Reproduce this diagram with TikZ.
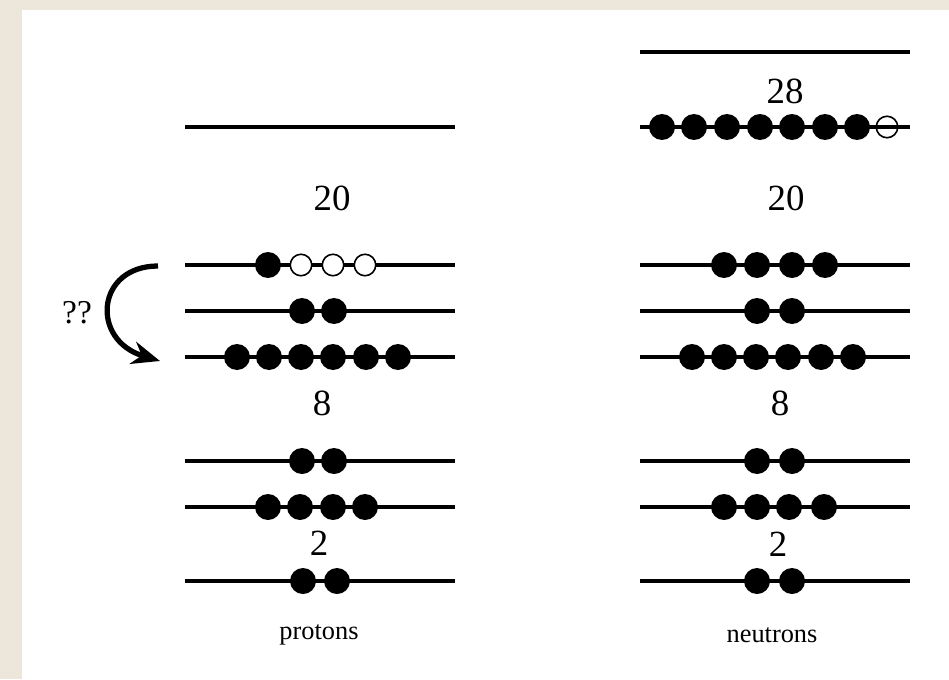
\documentclass[tikz,border=0pt]{standalone}
\usepackage{fontspec}
\setmainfont{Liberation Serif}
\usetikzlibrary{arrows.meta, positioning}
\definecolor{paperBeige}{RGB}{236,231,218}
\definecolor{levelBlack}{RGB}{0,0,0}

\begin{document}
\begin{tikzpicture}[
    x=0.02cm, y=-0.02cm,
    >=Stealth,
    % Single-particle level
    level/.style={draw=levelBlack, line width=2.3pt},
    % Occupied state
    full/.style={
        circle, fill=levelBlack, draw=none,
        inner sep=0pt, minimum size=0.52cm
    },
    % Empty state (white inside)
    hole/.style={
        circle, draw=levelBlack, fill=white, line width=0.9pt,
        inner sep=0pt, minimum size=0.43cm
    },
    % Empty state (line runs through)
    holeOpen/.style={
        circle, draw=levelBlack, line width=0.9pt,
        inner sep=0pt, minimum size=0.43cm
    },
    magic/.style={font=\fontsize{21}{24}\selectfont},
    caption/.style={font=\fontsize{15}{18}\selectfont}
]
% Page and white panel
\fill[paperBeige] (0,0) rectangle (949,679);
\fill[white] (22,10) rectangle (949,679);
\useasboundingbox (0,0) rectangle (949,679);
% ── Levels ────────────────────────────────────────────────────
\foreach \y in {127,265,311,357,461,507,581}
    \draw[level] (185,\y) -- (455,\y);
\foreach \y in {52,127,265,311,357,461,507,581}
    \draw[level] (640,\y) -- (910,\y);
% ── Protons (left, x = 185..455) ─────────────────────────────
\foreach \x [count=\i] in {303,337}
    \node[full] (p1s\i) at (\x,581) {};
\foreach \x [count=\i] in {268,300,333,365}
    \node[full] (p1p\i) at (\x,507) {};
\foreach \x [count=\i] in {302,334}
    \node[full] (p1ph\i) at (\x,461) {};
\foreach \x [count=\i] in {237,269,301,333,366,398}
    \node[full] (p1d\i) at (\x,357) {};
\foreach \x [count=\i] in {302,334}
    \node[full] (p2s\i) at (\x,311) {};
\node[full] (p1dh1) at (268,265) {};
\foreach \x [count=\i] in {301,333,365}
    \node[hole] (p1dh\i e) at (\x,265) {};
% ── Neutrons (right, x = 640..910) ───────────────────────────
\foreach \x [count=\i] in {757,792}
    \node[full] (n1s\i) at (\x,581) {};
\foreach \x [count=\i] in {724,757,789,824}
    \node[full] (n1p\i) at (\x,507) {};
\foreach \x [count=\i] in {757,792}
    \node[full] (n1ph\i) at (\x,461) {};
\foreach \x [count=\i] in {692,724,756,788,821,853}
    \node[full] (n1d\i) at (\x,357) {};
\foreach \x [count=\i] in {757,792}
    \node[full] (n2s\i) at (\x,311) {};
\foreach \x [count=\i] in {724,757,792,825}
    \node[full] (n1dh\i) at (\x,265) {};
\foreach \x [count=\i] in {662,694,727,760,792,825,857}
    \node[full] (n1f\i) at (\x,127) {};
\node[holeOpen] (n1f8) at (887,127) {};
% ── Magic numbers ────────────────────────────────────────────
\node[magic] (pTwo)    at (319,543) {2};
\node[magic] (pEight)  at (322,403) {8};
\node[magic] (pTwenty) at (332,198) {20};
\node[magic] (nTwo)    at (778,544) {2};
\node[magic] (nEight)  at (780,403) {8};
\node[magic] (nTwenty) at (786,198) {20};
\node[magic] (nTwentyEight) at (785,91) {28};
% ── Captions ─────────────────────────────────────────────────
\node[caption] (pCap) at (319,635) {protons};
\node[caption] (nCap) at (772,635) {neutrons};
% ── Question arrow ───────────────────────────────────────────
\node[font=\fontsize{19}{22}\selectfont] (qq) at (77,313) {??};
\coordinate (jumpFrom) at (158,266);
\coordinate (jumpTo)   at (160,361);
\draw[-{Stealth[length=16pt, width=13pt]}, line width=3pt]
    (jumpFrom) .. controls (96,266) and (90,340) .. (jumpTo);
\end{tikzpicture}
\end{document}
